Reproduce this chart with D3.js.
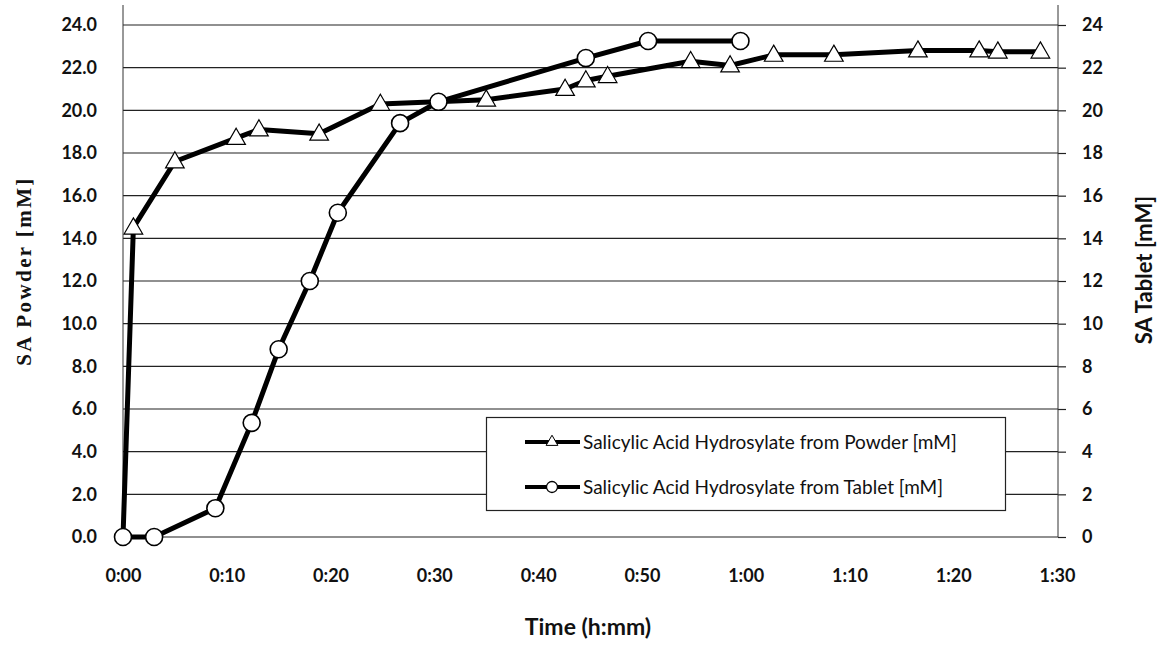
<!DOCTYPE html>
<html>
<head>
<meta charset="utf-8">
<script src="https://cdn.jsdelivr.net/npm/d3@7"></script>
<style>
  html, body { margin: 0; padding: 0; background: #fff; }
  svg { display: block; }
</style>
</head>
<body>
<svg id="chart" width="1165" height="646"></svg>
<script>
// Elapsed time in minutes and salicylic acid concentration (mM)
const powderTime = [0, 1.0, 5.0, 10.9, 13.1, 18.9, 24.8, 35.0, 42.6, 44.6, 46.7, 54.7, 58.5, 62.7, 68.5, 76.6, 82.5, 84.3, 88.4];
const powderSA   = [0, 14.5, 17.6, 18.7, 19.1, 18.9, 20.3, 20.5, 21.0, 21.4, 21.6, 22.3, 22.1, 22.6, 22.6, 22.8, 22.8, 22.75, 22.75];

const tabletTime = [0, 3.0, 8.9, 12.4, 15.0, 18.0, 20.7, 26.7, 30.4, 44.6, 50.6, 59.5];
const tabletSA   = [0, 0, 1.35, 5.35, 8.8, 12.0, 15.2, 19.4, 20.4, 22.45, 23.25, 23.25];

const timeTicks  = [0, 10, 20, 30, 40, 50, 60, 70, 80, 90];
const leftTicks  = [0, 2, 4, 6, 8, 10, 12, 14, 16, 18, 20, 22, 24];
const rightTicks = [0, 2, 4, 6, 8, 10, 12, 14, 16, 18, 20, 22, 24];

const seriesNames = [
  "Salicylic Acid Hydrosylate from Powder [mM]",
  "Salicylic Acid Hydrosylate from Tablet [mM]"
];

const svg = d3.select("#chart");

const plotLeft = 123, plotRight = 1057, plotTop = 25, plotBottom = 537, axisTop = 5;
const sans = "Lato, 'Open Sans', sans-serif";

const x = d3.scaleLinear().domain([0, 90]).range([plotLeft, plotRight]);
const yL = d3.scaleLinear().domain([0, 24]).range([plotBottom, plotTop]);
const yR = d3.scaleLinear().domain([0, 24]).range([plotBottom, plotTop]);

const fmtTime = m => Math.floor(m / 60) + ":" + String(m % 60).padStart(2, "0");

// horizontal gridlines
svg.append("g")
  .selectAll("line")
  .data(leftTicks)
  .join("line")
  .attr("x1", plotLeft).attr("x2", plotRight + 1)
  .attr("y1", d => yL(d)).attr("y2", d => yL(d))
  .attr("stroke", "#222").attr("stroke-width", 1.2);

// left axis
const gL = svg.append("g").attr("transform", `translate(${plotLeft},0)`)
  .call(d3.axisLeft(yL).tickValues(leftTicks).tickFormat(d3.format(".1f")).tickSize(0).tickPadding(26));
gL.select(".domain").remove();
gL.selectAll("text")
  .attr("font-family", sans)
  .attr("font-weight", 700).attr("font-size", 18).attr("fill", "#111");
svg.append("line").attr("x1", plotLeft).attr("x2", plotLeft).attr("y1", axisTop).attr("y2", plotBottom)
  .attr("stroke", "#333").attr("stroke-width", 1);

// right axis
const gR = svg.append("g").attr("transform", `translate(${plotRight + 1},0)`)
  .call(d3.axisRight(yR).tickValues(rightTicks).tickFormat(d3.format("d")).tickSize(8).tickPadding(16));
gR.select(".domain").remove();
gR.selectAll(".tick line").attr("stroke", "#222").attr("stroke-width", 1.2);
gR.selectAll("text")
  .attr("font-family", sans)
  .attr("font-weight", 700).attr("font-size", 18).attr("fill", "#111");
svg.append("line").attr("x1", plotRight + 1).attr("x2", plotRight + 1).attr("y1", axisTop).attr("y2", plotBottom)
  .attr("stroke", "#333").attr("stroke-width", 1);

// bottom axis
const gB = svg.append("g").attr("transform", `translate(0,${plotBottom})`)
  .call(d3.axisBottom(x).tickValues(timeTicks).tickFormat(fmtTime).tickSize(0).tickPadding(32));
gB.select(".domain").remove();
gB.selectAll("text")
  .attr("font-family", sans)
  .attr("font-weight", 700).attr("font-size", 18).attr("fill", "#111");

// axis titles
svg.append("text")
  .attr("transform", `translate(31,271) rotate(-90)`)
  .attr("text-anchor", "middle")
  .attr("font-family", "'Liberation Serif', 'Times New Roman', serif")
  .attr("font-weight", 700).attr("font-size", 21).attr("letter-spacing", 2.4).attr("fill", "#111")
  .text("SA Powder [mM]");

svg.append("text")
  .attr("transform", `translate(1152,270) rotate(-90)`)
  .attr("text-anchor", "middle")
  .attr("font-family", sans)
  .attr("font-weight", 700).attr("font-size", 22).attr("fill", "#111")
  .text("SA Tablet [mM]");

svg.append("text")
  .attr("x", 588).attr("y", 635)
  .attr("text-anchor", "middle")
  .attr("font-family", sans)
  .attr("font-weight", 700).attr("font-size", 23).attr("fill", "#111")
  .text("Time (h:mm)");

// series
const powder = powderTime.map((t, i) => ({ t, v: powderSA[i] }));
const tablet = tabletTime.map((t, i) => ({ t, v: tabletSA[i] }));

const triangle = d3.symbol().type(d3.symbolTriangle).size(150);

function drawSeries(data, yScale, kind) {
  const g = svg.append("g");
  g.append("path")
    .datum(data)
    .attr("fill", "none")
    .attr("stroke", "#000")
    .attr("stroke-width", 5)
    .attr("stroke-linejoin", "round")
    .attr("d", d3.line().x(d => x(d.t)).y(d => yScale(d.v)));
  const pts = data.filter(d => kind === "circle" || d.t > 0);
  if (kind === "circle") {
    g.selectAll("circle").data(pts).join("circle")
      .attr("cx", d => x(d.t)).attr("cy", d => yScale(d.v)).attr("r", 8.5)
      .attr("fill", "#fff").attr("stroke", "#000").attr("stroke-width", 1.6);
  } else {
    g.selectAll("path.m").data(pts).join("path").attr("class", "m")
      .attr("transform", d => `translate(${x(d.t)},${yScale(d.v) + 1})`)
      .attr("d", triangle)
      .attr("fill", "#fff").attr("stroke", "#000").attr("stroke-width", 1.2);
  }
}

drawSeries(powder, yL, "triangle");
drawSeries(tablet, yR, "circle");

// legend
const lg = svg.append("g");
lg.append("rect")
  .attr("x", 486.5).attr("y", 417.5).attr("width", 519).attr("height", 93)
  .attr("fill", "#fff").attr("stroke", "#222").attr("stroke-width", 1.2);

const legendRows = [
  { name: seriesNames[0], kind: "triangle", y: 442 },
  { name: seriesNames[1], kind: "circle", y: 487 }
];
legendRows.forEach(r => {
  lg.append("line").attr("x1", 525).attr("x2", 580).attr("y1", r.y).attr("y2", r.y)
    .attr("stroke", "#000").attr("stroke-width", 4);
  if (r.kind === "triangle") {
    lg.append("path").attr("transform", `translate(552,${r.y})`)
      .attr("d", d3.symbol().type(d3.symbolTriangle).size(60))
      .attr("fill", "#fff").attr("stroke", "#000").attr("stroke-width", 1);
  } else {
    lg.append("circle").attr("cx", 552).attr("cy", r.y).attr("r", 5.5)
      .attr("fill", "#fff").attr("stroke", "#000").attr("stroke-width", 1.3);
  }
  lg.append("text")
    .attr("x", 583).attr("y", r.y).attr("dy", "0.35em")
    .attr("font-family", sans)
    .attr("font-size", 19).attr("fill", "#111")
    .text(r.name);
});
</script>
</body>
</html>
